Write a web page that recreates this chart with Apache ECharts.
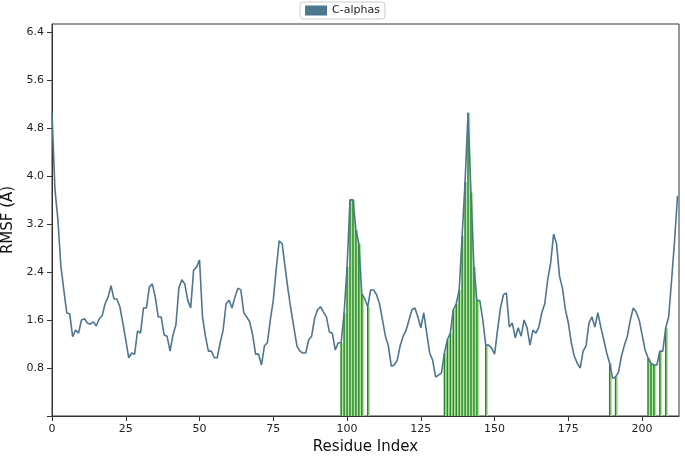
<!DOCTYPE html>
<html>
<head>
<meta charset="utf-8">
<script src="https://cdn.jsdelivr.net/npm/echarts@6/dist/echarts.min.js"></script>
<style>html,body{margin:0;padding:0;background:#fff}#chart{width:685px;height:456px}</style>
</head>
<body>
<div id="chart"></div>
<script>
// RMSF of C-alpha atoms per residue (0..212)
var rmsf = [
  5.05,3.77,3.27,2.5,2.1,1.72,1.7,1.32,1.43,1.38,
  1.6,1.62,1.55,1.53,1.57,1.5,1.62,1.67,1.87,1.98,
  2.17,1.95,1.95,1.82,1.55,1.27,0.97,1.05,1.03,1.42,
  1.38,1.8,1.8,2.15,2.2,1.98,1.65,1.65,1.35,1.33,
  1.08,1.35,1.52,2.13,2.27,2.2,1.93,1.8,2.43,2.48,
  2.6,1.65,1.33,1.08,1.08,0.97,0.97,1.22,1.43,1.87,
  1.93,1.8,1.98,2.13,2.1,1.72,1.65,1.57,1.35,1.03,
  1.03,0.85,1.17,1.22,1.6,1.93,2.45,2.92,2.87,2.48,
  2.1,1.77,1.47,1.17,1.08,1.05,1.05,1.27,1.33,1.63,
  1.77,1.82,1.73,1.65,1.4,1.38,1.1,1.22,1.22,1.72,
  2.48,3.6,3.6,3.1,2.87,2.03,1.95,1.82,2.1,2.1,
  2.02,1.87,1.6,1.33,1.17,0.83,0.85,0.93,1.17,1.33,
  1.43,1.6,1.77,1.8,1.65,1.47,1.72,1.38,1.05,0.93,
  0.65,0.68,0.72,1.05,1.27,1.38,1.77,1.87,2.1,3.0,
  3.9,5.05,3.72,2.48,1.93,1.92,1.6,1.18,1.18,1.13,
  1.03,1.43,1.8,2.02,2.05,1.48,1.55,1.3,1.47,1.33,
  1.6,1.47,1.18,1.43,1.38,1.48,1.72,1.87,2.27,2.55,
  3.03,2.87,2.33,2.13,1.77,1.55,1.22,1.0,0.88,0.8,
  1.08,1.17,1.55,1.65,1.48,1.72,1.48,1.27,1.05,0.88,
  0.63,0.65,0.73,1.0,1.18,1.33,1.6,1.8,1.73,1.6,
  1.35,1.1,0.97,0.88,0.85,0.85,1.08,1.08,1.47,1.65,
  2.27,2.92,3.67
];
// residues in contact (highlighted green)
var contactResidues = [98,99,100,101,102,103,104,105,107,
  133,134,135,136,137,138,139,140,141,142,143,144,147,
  189,191,202,203,204,206,208];
var xTicks = [0,25,50,75,100,125,150,175,200];
var yTicks = [0.8,1.6,2.4,3.2,4.0,4.8,5.6,6.4];

var lineData = rmsf.map(function(v,i){return [i,v];});
var contactData = contactResidues.map(function(r){return [r,rmsf[r]];});

var chart = echarts.init(document.getElementById('chart'));
chart.setOption({
  animation:false,
  legend:{top:2,left:'center',itemWidth:22,itemHeight:10,padding:[3,5],
    borderColor:'#ccc',borderWidth:1,borderRadius:3,
    textStyle:{fontSize:11,color:'#222',fontFamily:'DejaVu Sans'},
    data:[{name:'C-alphas',icon:'rect'}]},
  grid:{left:52,right:6,top:24,bottom:40,show:true,borderColor:'#333',borderWidth:1,
    outerBoundsMode:'none',containLabel:false},
  xAxis:{type:'value',min:0,max:212.5,interval:25,
    name:'Residue Index',nameLocation:'middle',nameGap:22,
    nameTextStyle:{fontSize:15,color:'#111',fontFamily:'DejaVu Sans'},
    axisLine:{lineStyle:{color:'#333'}},axisTick:{lineStyle:{color:'#333'}},
    splitLine:{show:false},
    axisLabel:{fontSize:11,color:'#222',fontFamily:'DejaVu Sans',showMaxLabel:false,
      formatter:function(v){return xTicks.indexOf(v)>=0?String(v):'';}}},
  yAxis:{type:'value',min:0,max:6.53,interval:0.8,
    name:'RMSF (Å)',nameLocation:'middle',nameGap:32,
    nameTextStyle:{fontSize:15,color:'#111',fontFamily:'DejaVu Sans'},
    axisLine:{show:true,lineStyle:{color:'#333'}},axisTick:{lineStyle:{color:'#333'}},
    splitLine:{show:false},
    axisLabel:{fontSize:11,color:'#222',fontFamily:'DejaVu Sans',showMaxLabel:false,
      formatter:function(v){
        for(var i=0;i<yTicks.length;i++){if(Math.abs(yTicks[i]-v)<1e-6)return yTicks[i].toFixed(1);}
        return '';}}},
  series:[
    {name:'contactFill',type:'bar',data:contactData,barWidth:3,barGap:'-100%',
      itemStyle:{color:'#b5e0a4'},silent:true,z:1},
    {name:'contactLine',type:'bar',data:contactData,barWidth:1.4,barGap:'-100%',
      itemStyle:{color:'#1f8a1f'},silent:true,z:2},
    {name:'C-alphas',type:'line',data:lineData,showSymbol:false,
      lineStyle:{color:'#4d7690',width:1.6},itemStyle:{color:'#4d7690'},z:3}
  ]
});
</script>
</body>
</html>
